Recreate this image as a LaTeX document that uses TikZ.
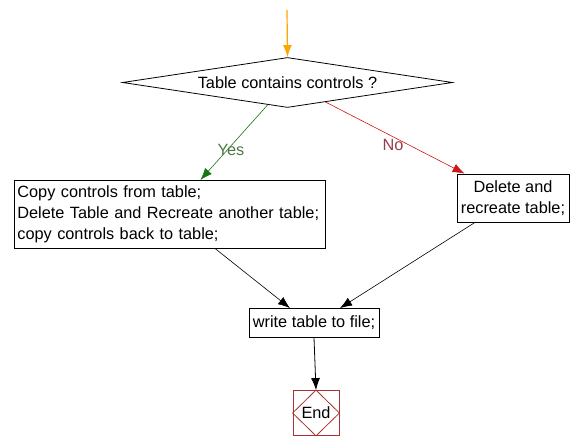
\documentclass[tikz,border=0pt]{standalone}
\usepackage{fontspec}
\setmainfont{Liberation Sans}
\usetikzlibrary{arrows.meta,shapes.geometric,calc}
\definecolor{yesline}{RGB}{20,120,20}
\definecolor{noline}{RGB}{210,20,20}
\definecolor{yestext}{RGB}{80,120,70}
\definecolor{notext}{RGB}{150,60,80}
\definecolor{endred}{RGB}{170,50,50}
\definecolor{startorange}{RGB}{255,165,0}

\begin{document}
\begin{tikzpicture}[x=1bp,y=1bp,
  font=\fontsize{16.3bp}{21bp}\selectfont,
  box/.style={draw,thick,inner sep=3bp},
  arr/.style={-{Latex[length=12bp,width=9bp]}}]
\useasboundingbox (0,0) rectangle (573,-438);
\coordinate (start) at (287,-10);
\node[draw,thick,diamond,aspect=6.6,minimum width=330bp,minimum height=50bp,inner sep=0pt] (dec) at (287.5,-82.5) {Table contains controls ?};
\node[box,anchor=north west,text width=305bp,align=left,minimum height=68bp] (copy) at (14,-180) {Copy controls from table;\\Delete Table and Recreate another table;\\copy controls back to table;};
\node[box,align=center,minimum width=112bp,minimum height=48bp] (recr) at (513,-198) {Delete and\\recreate table;};
\node[box,minimum width=130bp,minimum height=29bp] (write) at (314,-323) {write table to file;};
\node[draw=endred,thick,minimum width=46bp,minimum height=45bp,inner sep=0pt] (end) at (316,-413) {End};
\draw[endred,thick] (end.north) -- (end.east) -- (end.south) -- (end.west) -- cycle;
% connectors
\draw[arr,startorange,very thick] (start) -- (dec.north);
\draw[arr,yesline,semithick] ($(dec.south)!0.12!(dec.west)$) -- ([xshift=30.5bp]copy.north);
\draw[arr,noline,semithick] ($(dec.south)!0.23!(dec.east)$) -- ([xshift=8bp]recr.north west);
\node[yestext] at (231,-150) {Yes};
\node[notext] at (393,-145) {No};
\draw[arr,semithick] ([xshift=45.5bp]copy.south) -- ([xshift=-24bp]write.north);
\draw[arr,semithick] ([xshift=-38bp]recr.south) -- ([xshift=26bp]write.north);
\draw[arr,thick] (write.south) -- (end.north);
\end{tikzpicture}
\end{document}
